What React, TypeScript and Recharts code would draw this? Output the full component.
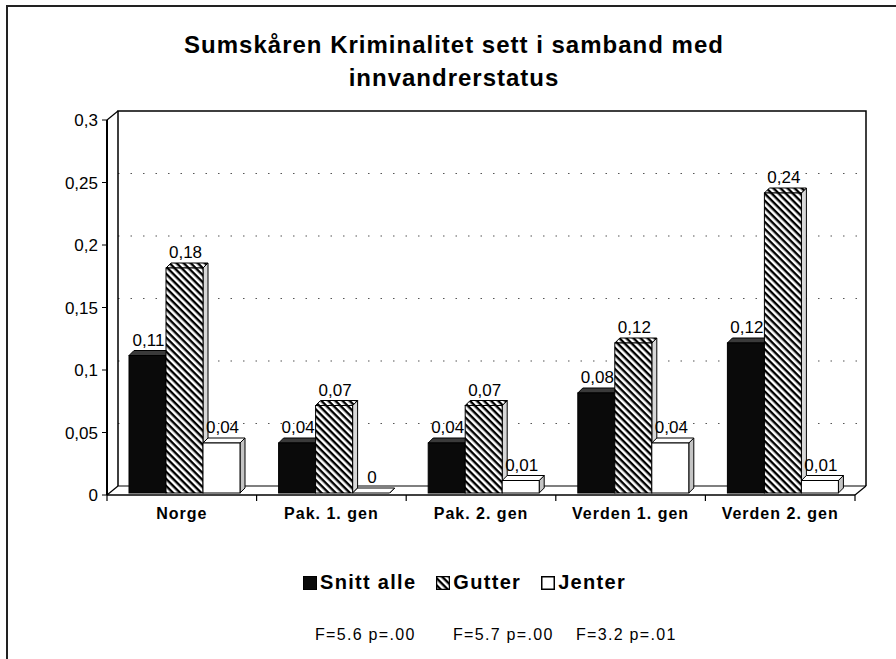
import React from 'react';
import { BarChart, Bar, XAxis, YAxis, CartesianGrid, ReferenceArea, LabelList, Legend } from 'recharts';

const categories = ['Norge', 'Pak. 1. gen', 'Pak. 2. gen', 'Verden 1. gen', 'Verden 2. gen'];
const snittAlle = [0.11, 0.04, 0.04, 0.08, 0.12];
const gutter = [0.18, 0.07, 0.07, 0.12, 0.24];
const jenter = [0.04, 0, 0.01, 0.04, 0.01];
const yTicks = [0, 0.05, 0.1, 0.15, 0.2, 0.25, 0.3];
const seriesNames = ['Snitt alle', 'Gutter', 'Jenter'];
const titleLines = ['Sumskåren Kriminalitet sett i samband med', 'innvandrerstatus'];
const footerStats = ['F=5.6 p=.00', 'F=5.7 p=.00', 'F=3.2 p=.01'];

const data = categories.map((name, i) => ({
  name,
  snitt: snittAlle[i],
  gutter: gutter[i],
  jenter: jenter[i],
}));

const FONT = '"Liberation Sans", Arial, sans-serif';
const W = 896;
const H = 659;

// 3D look: wall depth, bar depth, bar placement inside the floor
const WDX = 11;
const WDY = 9;
const BDX = 5;
const BDY = 5;
const SX = 3;
const SY = 2;

const fmt = (v: any) => String(v).replace('.', ',');

const make3DBar = (front: string, top: string, side: string) => (props: any) => {
  const { x, y, width, height } = props;
  if (x == null || y == null) return <g />;
  const fx = x + SX;
  const fy = y - SY;
  const w = width;
  const h = Math.max(height || 0, 0);
  return (
    <g>
      <polygon
        points={`${fx + w},${fy} ${fx + w + BDX},${fy - BDY} ${fx + w + BDX},${fy + h - BDY} ${fx + w},${fy + h}`}
        fill={side}
        stroke="#000"
        strokeWidth={1}
      />
      <polygon
        points={`${fx},${fy} ${fx + BDX},${fy - BDY} ${fx + w + BDX},${fy - BDY} ${fx + w},${fy}`}
        fill={top}
        stroke="#000"
        strokeWidth={1}
      />
      <rect x={fx} y={fy} width={w} height={h} fill={front} stroke="#000" strokeWidth={1} />
    </g>
  );
};

const BlackBar = make3DBar('#0a0a0a', '#3a3a3a', '#1e1e1e');
const HatchBar = make3DBar('url(#hatch)', 'url(#hatch)', '#d8d8d8');
const WhiteBar = make3DBar('#ffffff', '#ffffff', '#c4c4c4');

const renderLabel = (props: any) => {
  const { x, y, width, value } = props;
  if (x == null || y == null) return null;
  return (
    <text
      x={x + width / 2 + SX + 1}
      y={y - SY - BDY - 5}
      textAnchor="middle"
      fontSize={17}
      fontFamily={FONT}
      fill="#000"
    >
      {fmt(value)}
    </text>
  );
};

const WallShape = (props: any) => {
  const { x, y, width, height } = props;
  if (x == null) return <g />;
  const b = y + height;
  const r = x + width;
  return (
    <g fill="none" stroke="#000">
      <polyline
        points={`${x + WDX},${b - WDY} ${x + WDX},${y - WDY} ${r + WDX},${y - WDY} ${r + WDX},${b - WDY}`}
        strokeWidth={1.5}
      />
      <line x1={x + WDX} y1={b - WDY} x2={r + WDX} y2={b - WDY} strokeWidth={1.2} />
      <line x1={r + WDX} y1={b - WDY} x2={r} y2={b} strokeWidth={1.2} />
      <line x1={x} y1={b} x2={x + WDX} y2={b - WDY} strokeWidth={1.2} />
      <line x1={x} y1={y} x2={x + WDX} y2={y - WDY} strokeWidth={1.2} />
    </g>
  );
};

const GridLine = (props: any) => {
  const { x1, y1, x2, y2 } = props;
  return (
    <line
      x1={x1 + WDX}
      y1={y1 - WDY}
      x2={x2 + WDX}
      y2={y2 - WDY}
      stroke="#555"
      strokeWidth={1.2}
      strokeDasharray="1.5 11"
    />
  );
};

const XTick = (props: any) => {
  const { x, y, payload, index, visibleTicksCount } = props;
  const half = payload && payload.offset ? payload.offset : 74.8;
  const isLast = index === (visibleTicksCount ? visibleTicksCount - 1 : categories.length - 1);
  return (
    <g>
      <line x1={x - half} y1={y - 8} x2={x - half} y2={y - 2} stroke="#000" strokeWidth={1.2} />
      {isLast && <line x1={x + half} y1={y - 8} x2={x + half} y2={y - 2} stroke="#000" strokeWidth={1.2} />}
      <text
        x={x}
        y={y + 16}
        textAnchor="middle"
        fontSize={16}
        fontWeight="bold"
        letterSpacing={1}
        fontFamily={FONT}
        fill="#000"
      >
        {payload.value}
      </text>
    </g>
  );
};

const legendIcons = [
  <rect x={0.5} y={0.5} width={13} height={13} fill="#0a0a0a" stroke="#000" />,
  <rect x={0.5} y={0.5} width={13} height={13} fill="url(#hatch)" stroke="#000" strokeWidth={1.5} />,
  <rect x={0.75} y={0.75} width={12.5} height={12.5} fill="#fff" stroke="#000" strokeWidth={1.5} />,
];

const LegendContent = () => (
  <div style={{ display: 'flex', alignItems: 'center', fontFamily: FONT }}>
    {seriesNames.map((n, i) => (
      <div key={n} style={{ display: 'flex', alignItems: 'center', marginRight: 20 }}>
        <svg width={14} height={14} style={{ marginRight: 3 }}>
          {legendIcons[i]}
        </svg>
        <span style={{ fontSize: 20, fontWeight: 'bold', letterSpacing: 1.3, color: '#000' }}>{n}</span>
      </div>
    ))}
  </div>
);

export default function App() {
  return (
    <div style={{ position: 'absolute', left: 0, top: 0, width: W, height: H, background: '#fff', overflow: 'hidden' }}>
      <svg width={0} height={0} style={{ position: 'absolute' }}>
        <defs>
          <pattern id="hatch" patternUnits="userSpaceOnUse" width={5} height={5} patternTransform="rotate(45)">
            <rect x={0} y={0} width={5} height={5} fill="#fff" />
            <rect x={0} y={0} width={5} height={2.4} fill="#000" />
          </pattern>
        </defs>
      </svg>
      <div
        style={{
          position: 'absolute',
          left: 6,
          top: 5,
          width: W - 6,
          height: H - 5,
          borderLeft: '2px solid #222',
          borderTop: '2px solid #222',
          boxSizing: 'border-box',
        }}
      />
      <div
        style={{
          position: 'absolute',
          left: 0,
          top: 28,
          width: 908,
          textAlign: 'center',
          fontFamily: FONT,
          fontWeight: 'bold',
          fontSize: 24,
          letterSpacing: 1,
          lineHeight: '33px',
          color: '#000',
        }}
      >
        {titleLines.map((t) => (
          <div key={t}>{t}</div>
        ))}
      </div>
      <div style={{ position: 'absolute', left: 0, top: 0 }}>
        <BarChart
          width={W}
          height={H}
          data={data}
          margin={{ top: 120, right: 41, bottom: 134, left: 47 }}
          barGap={0}
          barSize={37}
        >
          <ReferenceArea y1={0} y2={0.3} shape={WallShape} ifOverflow="visible" fill="none" stroke="none" />
          <CartesianGrid vertical={false} horizontal={GridLine as any} horizontalValues={[0.05, 0.1, 0.15, 0.2, 0.25]} />
          <XAxis
            dataKey="name"
            height={30}
            axisLine={{ stroke: '#000', strokeWidth: 1.5 }}
            tickLine={false}
            tick={XTick}
            interval={0}
          />
          <YAxis
            width={60}
            domain={[0, 0.3]}
            ticks={yTicks}
            tickFormatter={fmt}
            axisLine={{ stroke: '#000', strokeWidth: 2 }}
            tickLine={{ stroke: '#000' }}
            tickSize={5}
            tickMargin={4}
            tick={{ fontSize: 17, fill: '#000', fontFamily: FONT }}
            allowDataOverflow
          />
          <Legend
            layout="horizontal"
            verticalAlign="middle"
            align="center"
            content={LegendContent}
            wrapperStyle={{ position: 'absolute', top: 571, left: 303, width: 420, height: 24 }}
          />
          <Bar dataKey="snitt" name={seriesNames[0]} shape={BlackBar} isAnimationActive={false}>
            <LabelList dataKey="snitt" content={renderLabel} />
          </Bar>
          <Bar dataKey="gutter" name={seriesNames[1]} shape={HatchBar} isAnimationActive={false}>
            <LabelList dataKey="gutter" content={renderLabel} />
          </Bar>
          <Bar dataKey="jenter" name={seriesNames[2]} shape={WhiteBar} isAnimationActive={false}>
            <LabelList dataKey="jenter" content={renderLabel} />
          </Bar>
        </BarChart>
      </div>
      {footerStats.map((s, i) => (
        <div
          key={s}
          style={{
            position: 'absolute',
            left: [315, 453, 576][i],
            top: 626,
            fontFamily: FONT,
            fontSize: 16,
            letterSpacing: 1.3,
            color: '#000',
            whiteSpace: 'nowrap',
          }}
        >
          {s}
        </div>
      ))}
    </div>
  );
}
